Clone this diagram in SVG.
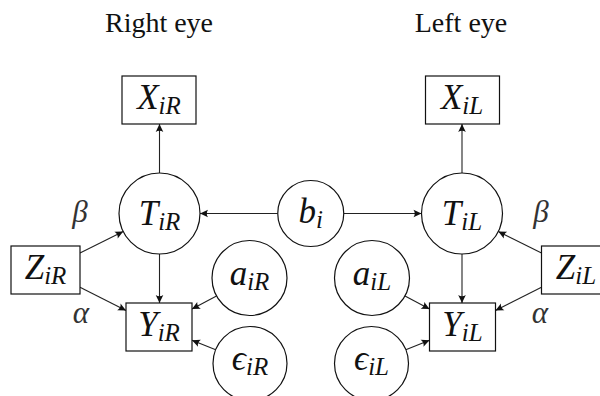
<svg xmlns="http://www.w3.org/2000/svg" width="600" height="396" viewBox="0 0 600 396">
<defs>
<marker id="arr" viewBox="-10 -5 12 10" refX="0" refY="0" markerWidth="12" markerHeight="10" markerUnits="userSpaceOnUse" orient="auto">
<path d="M0,0 L-8,-3.8 Q-5.5,0 -8,3.8 Z" fill="#111" stroke="none"/>
</marker>
<style>
.nd{fill:#fff;stroke:#111;stroke-width:1.2}
.ln{fill:none;stroke:#222;stroke-width:1.1;marker-end:url(#arr)}
.m{font-family:"Liberation Serif","DejaVu Serif",serif;font-style:italic;font-size:35px;fill:#111;text-anchor:middle}
.s{font-size:25px}
.g{font-family:"Liberation Serif","DejaVu Serif",serif;font-style:italic;font-size:31px;fill:#333;text-anchor:middle}
.t{font-family:"Liberation Serif","DejaVu Serif",serif;font-size:28px;fill:#111;text-anchor:middle}
</style>
</defs>
<rect width="600" height="396" fill="#fff"/>
<text class="t" x="159" y="32">Right eye</text>
<text class="t" x="461" y="32">Left eye</text>
<g id="connectors">
<line class="ln" x1="159.5" y1="173" x2="159.5" y2="124"/>
<line class="ln" x1="462" y1="173" x2="462" y2="124"/>
<line class="ln" x1="277.75" y1="213.5" x2="200" y2="213.5"/>
<line class="ln" x1="343.75" y1="213.5" x2="421.5" y2="213.5"/>
<line class="ln" x1="159.5" y1="254" x2="159.5" y2="303"/>
<line class="ln" x1="462" y1="254" x2="462" y2="303"/>
<line class="ln" x1="80" y1="252.9" x2="123.2" y2="231.5"/>
<line class="ln" x1="80" y1="287.3" x2="126" y2="310.4"/>
<line class="ln" x1="216.5" y1="295.9" x2="192" y2="309.1"/>
<line class="ln" x1="215.7" y1="349.7" x2="192" y2="340.2"/>
<line class="ln" x1="541.5" y1="252.9" x2="498.3" y2="231.5"/>
<line class="ln" x1="541.5" y1="287.3" x2="495.5" y2="310.4"/>
<line class="ln" x1="405" y1="295.9" x2="429.5" y2="309.1"/>
<line class="ln" x1="405.8" y1="349.7" x2="429.5" y2="340.2"/>
</g>
<g id="X_iR"><rect class="nd" x="122" y="76" width="74" height="48"/><text class="m" x="159" y="109">X<tspan class="s" dy="5">iR</tspan></text></g>
<g id="X_iL"><rect class="nd" x="425.5" y="76" width="74" height="48"/><text class="m" x="462" y="109">X<tspan class="s" dy="5">iL</tspan></text></g>
<g id="T_iR"><circle class="nd" cx="159.5" cy="213.5" r="40.5"/><text class="m" x="159.5" y="225">T<tspan class="s" dy="5">iR</tspan></text></g>
<g id="T_iL"><circle class="nd" cx="462" cy="213.5" r="40.5"/><text class="m" x="462" y="225">T<tspan class="s" dy="5">iL</tspan></text></g>
<g id="b_i"><circle class="nd" cx="310.75" cy="213.5" r="33"/><text class="m" x="310.75" y="223">b<tspan class="s" dy="5">i</tspan></text></g>
<g id="Z_iR"><rect class="nd" x="11" y="246" width="69" height="48"/><text class="m" x="45.5" y="279">Z<tspan class="s" dy="5">iR</tspan></text></g>
<g id="Z_iL"><rect class="nd" x="541.5" y="246" width="69" height="48"/><text class="m" x="576" y="279">Z<tspan class="s" dy="5">iL</tspan></text></g>
<g id="Y_iR"><rect class="nd" x="126" y="303" width="66" height="48"/><text class="m" x="159" y="336">Y<tspan class="s" dy="5">iR</tspan></text></g>
<g id="Y_iL"><rect class="nd" x="429.5" y="303" width="66" height="48"/><text class="m" x="462.5" y="336">Y<tspan class="s" dy="5">iL</tspan></text></g>
<g id="a_iR"><circle class="nd" cx="249.5" cy="278" r="37.5"/><text class="m" x="249.5" y="285">a<tspan class="s" dy="5">iR</tspan></text></g>
<g id="a_iL"><circle class="nd" cx="372" cy="278" r="37.5"/><text class="m" x="372" y="285">a<tspan class="s" dy="5">iL</tspan></text></g>
<g id="eps_iR"><circle class="nd" cx="250" cy="363.5" r="37"/><text class="m" x="250" y="370">ϵ<tspan class="s" dy="5">iR</tspan></text></g>
<g id="eps_iL"><circle class="nd" cx="371.5" cy="363.5" r="37"/><text class="m" x="371.5" y="370">ϵ<tspan class="s" dy="5">iL</tspan></text></g>
<g id="labels">
<text class="g" x="80" y="222">β</text>
<text class="g" x="81" y="323">α</text>
<text class="g" x="541" y="222">β</text>
<text class="g" x="540" y="323">α</text>
</g>
</svg>
